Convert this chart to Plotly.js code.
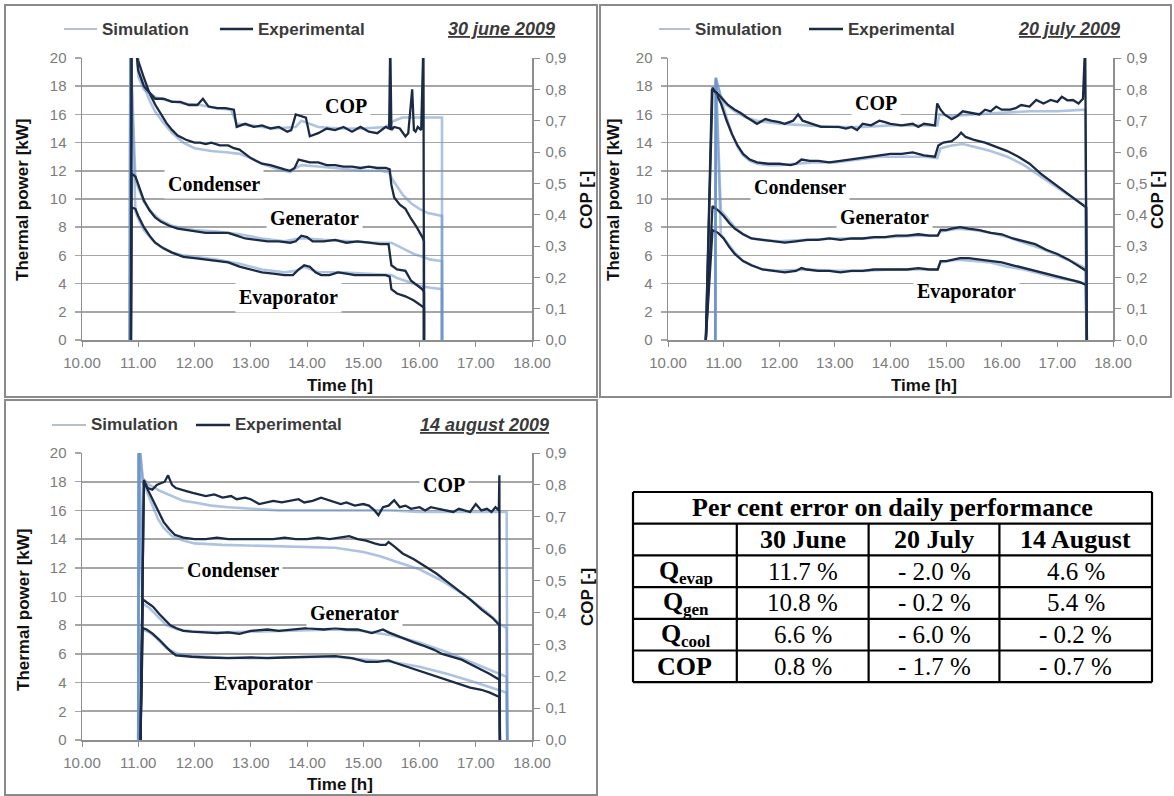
<!DOCTYPE html>
<html><head><meta charset="utf-8">
<script src="https://cdn.plot.ly/plotly-3.0.1.min.js"></script>
<style>html,body{margin:0;padding:0;background:#fff;} #chart{width:1174px;height:796px;}</style>
</head><body><div id="chart"></div>
<script>
// ---------------- data ----------------
const hours = [10, 11, 12, 13, 14, 15, 16, 17, 18];
const hourLabels = ['10.00', '11.00', '12.00', '13.00', '14.00', '15.00', '16.00', '17.00', '18.00'];
const kwTicks = [0, 2, 4, 6, 8, 10, 12, 14, 16, 18, 20];
const copTicks = [0, 0.1, 0.2, 0.3, 0.4, 0.5, 0.6, 0.7, 0.8, 0.9];
const copLabels = ['0,0', '0,1', '0,2', '0,3', '0,4', '0,5', '0,6', '0,7', '0,8', '0,9'];
const legendNames = ['Simulation', 'Experimental'];
const curveNames = ['COP', 'Condenser', 'Generator', 'Evaporator'];
const dayTitles = ['30 june 2009', '20 july 2009', '14 august 2009'];

// ---- 30 June 2009 ----
const junCondExpT = [10.87,10.88,10.97,11.0,11.1,11.2,11.3,11.4,11.5,11.6,11.7,11.85,12.0,12.1,12.2,12.3,12.45,12.6,12.7,12.8,12.9,13.0,13.1,13.2,13.35,13.5,13.6,13.7,13.78,13.85,13.95,14.05,14.2,14.35,14.5,14.65,14.8,14.95,15.1,15.25,15.4,15.47,15.5,15.55,15.65,15.75,15.85,15.95,16.05,16.08,16.08];
const junCondExp  = [0,21,21,19.8,18.6,17.5,16.7,16.0,15.4,14.9,14.5,14.2,14.0,14.0,13.9,14.0,13.8,13.8,13.6,13.5,13.2,12.9,12.7,12.5,12.4,12.2,12.1,12.0,12.2,12.8,12.7,12.6,12.6,12.4,12.4,12.3,12.3,12.2,12.3,12.2,12.2,12.1,11.0,10.1,9.6,9.3,8.6,8.0,7.3,7.0,0];
const junGenExpT = [10.87,10.88,10.95,11.0,11.1,11.2,11.3,11.4,11.55,11.7,11.85,12.0,12.2,12.4,12.6,12.75,12.9,13.1,13.3,13.5,13.7,13.8,13.9,14.0,14.1,14.3,14.5,14.7,14.9,15.1,15.3,15.45,15.5,15.6,15.75,15.85,15.95,16.05,16.08,16.08];
const junGenExp  = [0,11.8,11.6,11.0,9.9,9.2,8.7,8.4,8.1,7.9,7.8,7.7,7.6,7.6,7.6,7.4,7.2,7.1,7.0,7.0,6.9,7.0,7.4,7.3,7.0,7.0,7.1,6.9,7.0,6.9,6.8,6.8,5.3,5.0,4.9,4.2,3.9,3.6,3.4,0];
const junEvapExpT = [10.87,10.88,10.95,11.0,11.1,11.2,11.3,11.45,11.6,11.8,12.0,12.2,12.4,12.6,12.8,13.0,13.2,13.4,13.6,13.75,13.85,13.95,14.05,14.15,14.25,14.4,14.55,14.7,14.85,15.0,15.2,15.4,15.47,15.5,15.6,15.75,15.9,16.0,16.08,16.08];
const junEvapExp  = [0,9.4,9.3,8.8,8.0,7.4,6.9,6.5,6.2,5.9,5.8,5.7,5.6,5.5,5.2,5.0,4.8,4.7,4.6,4.6,5.0,5.3,5.2,4.8,4.6,4.6,4.8,4.7,4.6,4.6,4.6,4.6,4.5,3.6,3.3,3.1,2.8,2.5,2.3,0];
const junCopExpT = [10.87,10.88,10.95,11.0,11.1,11.2,11.3,11.45,11.6,11.75,11.9,12.05,12.15,12.25,12.4,12.55,12.7,12.75,12.9,13.05,13.2,13.35,13.5,13.65,13.72,13.8,13.9,13.98,14.05,14.2,14.35,14.5,14.65,14.8,14.95,15.1,15.25,15.4,15.46,15.48,15.5,15.55,15.65,15.75,15.8,15.87,15.9,15.93,15.97,16.03,16.07,16.08];
const junCopExp  = [0,0.95,0.95,0.86,0.81,0.79,0.77,0.77,0.76,0.76,0.75,0.75,0.77,0.745,0.74,0.74,0.735,0.68,0.69,0.68,0.685,0.675,0.68,0.665,0.67,0.72,0.715,0.71,0.65,0.66,0.675,0.67,0.68,0.665,0.68,0.665,0.66,0.68,0.675,0.95,0.67,0.68,0.675,0.65,0.66,0.8,0.67,0.665,0.68,0.67,0.95,0];
const junCondSimT = [10.85,10.86,10.97,11.0,11.1,11.2,11.3,11.45,11.6,11.8,12.0,12.3,12.6,12.8,13.0,13.2,13.5,13.7,13.8,13.9,14.2,14.5,15.0,15.3,15.45,15.55,15.7,15.85,16.0,16.15,16.4,16.4];
const junCondSim  = [0,21,21,19.2,18.0,17.0,16.2,15.4,14.7,14.0,13.6,13.4,13.3,13.2,12.9,12.5,12.1,11.9,12.2,12.4,12.3,12.2,12.0,12.0,11.9,11.2,10.3,9.7,9.3,9.0,8.8,0];
const junGenSimT = [10.85,10.86,10.95,11.0,11.1,11.25,11.4,11.6,11.8,12.0,12.4,12.8,13.2,13.6,13.85,14.0,14.3,14.8,15.2,15.5,15.6,15.75,15.9,16.05,16.2,16.4,16.4];
const junGenSim  = [0,21,11.4,10.8,9.8,9.0,8.5,8.1,7.9,7.8,7.7,7.5,7.2,7.0,7.2,7.2,7.1,7.0,6.9,6.9,6.7,6.4,6.1,5.9,5.7,5.6,0];
const junEvapSimT = [10.85,10.86,10.95,11.0,11.1,11.25,11.4,11.6,11.8,12.0,12.4,12.8,13.2,13.6,13.8,13.95,14.2,14.6,15.0,15.5,15.6,15.75,15.9,16.05,16.2,16.4,16.4];
const junEvapSim  = [0,21,9.1,8.6,7.8,7.1,6.6,6.2,6.0,5.9,5.7,5.4,5.0,4.8,4.9,5.2,4.8,4.8,4.7,4.6,4.4,4.2,4.0,3.8,3.7,3.6,0];
const junCopSimT = [10.85,10.86,10.97,11.0,11.1,11.3,11.5,11.8,12.1,12.4,12.65,12.75,13.0,13.4,13.8,13.9,14.2,14.6,15.0,15.4,15.55,15.7,16.0,16.4,16.4];
const junCopSim  = [0,0.95,0.95,0.84,0.8,0.775,0.765,0.755,0.75,0.74,0.735,0.69,0.685,0.675,0.68,0.7,0.68,0.675,0.675,0.68,0.7,0.71,0.71,0.71,0];

// ---- 20 July 2009 ----
const julCondExpT = [10.68,10.8,10.85,10.95,11.05,11.15,11.25,11.35,11.47,11.6,11.8,12.0,12.2,12.3,12.4,12.55,12.7,12.9,13.1,13.3,13.5,13.65,13.8,14.0,14.2,14.4,14.6,14.8,14.86,14.95,15.1,15.2,15.27,15.35,15.5,15.7,15.9,16.1,16.3,16.5,16.7,16.9,17.1,17.3,17.45,17.52,17.53];
const julCondExp  = [0,17.9,17.6,16.8,15.6,14.6,13.8,13.2,12.8,12.6,12.5,12.5,12.4,12.5,12.8,12.7,12.7,12.6,12.7,12.8,12.9,13.0,13.1,13.2,13.2,13.3,13.1,13.0,13.8,14.0,14.1,14.4,14.7,14.4,14.2,14.0,13.7,13.4,13.0,12.5,11.8,11.2,10.6,10.0,9.6,9.4,0];
const julGenExpT = [10.68,10.8,10.9,11.0,11.1,11.2,11.35,11.5,11.7,11.9,12.1,12.3,12.5,12.7,12.9,13.1,13.3,13.5,13.7,13.9,14.1,14.3,14.5,14.7,14.85,14.9,15.0,15.1,15.25,15.4,15.6,15.8,16.0,16.2,16.4,16.6,16.8,17.0,17.2,17.4,17.52,17.53];
const julGenExp  = [0,9.5,9.2,8.8,8.3,7.9,7.5,7.2,7.1,7.0,6.9,7.0,7.1,7.1,7.2,7.1,7.2,7.2,7.3,7.3,7.4,7.4,7.5,7.4,7.4,7.8,7.8,7.9,8.0,7.9,7.8,7.6,7.5,7.2,7.0,6.8,6.4,6.1,5.7,5.2,4.9,0];
const julEvapExpT = [10.68,10.8,10.9,11.0,11.1,11.2,11.35,11.5,11.7,11.9,12.1,12.3,12.4,12.5,12.7,12.9,13.1,13.3,13.5,13.7,13.9,14.1,14.3,14.5,14.7,14.85,14.9,15.0,15.1,15.25,15.4,15.6,15.8,16.0,16.2,16.4,16.6,16.8,17.0,17.2,17.4,17.52,17.53];
const julEvapExp  = [0,7.8,7.6,7.2,6.6,6.1,5.6,5.3,5.0,4.9,4.8,4.9,5.1,5.0,4.9,4.9,4.8,4.9,4.9,5.0,5.0,5.0,5.0,5.1,5.0,5.0,5.6,5.6,5.7,5.8,5.8,5.7,5.6,5.5,5.3,5.1,4.9,4.7,4.5,4.3,4.1,3.9,0];
const julCopExpT = [10.68,10.79,10.87,10.95,11.08,11.2,11.3,11.42,11.5,11.6,11.75,11.85,12.0,12.1,12.25,12.34,12.42,12.5,12.65,12.75,12.9,13.07,13.2,13.3,13.4,13.5,13.65,13.8,13.9,14.0,14.2,14.4,14.5,14.6,14.8,14.84,14.9,14.97,15.1,15.2,15.3,15.45,15.6,15.7,15.8,15.9,16.0,16.15,16.25,16.35,16.5,16.62,16.75,16.88,17.0,17.08,17.18,17.28,17.38,17.46,17.5,17.53];
const julCopExp  = [0,0.8,0.79,0.776,0.75,0.735,0.725,0.71,0.7,0.69,0.705,0.7,0.695,0.69,0.7,0.72,0.7,0.695,0.685,0.68,0.68,0.68,0.675,0.68,0.67,0.69,0.685,0.7,0.695,0.69,0.685,0.69,0.68,0.69,0.685,0.755,0.735,0.72,0.705,0.715,0.73,0.725,0.72,0.735,0.73,0.745,0.735,0.735,0.74,0.75,0.745,0.766,0.755,0.766,0.76,0.776,0.765,0.766,0.755,0.77,0.95,0];
const julCondSimT = [10.85,10.86,10.95,11.05,11.15,11.25,11.35,11.47,11.6,11.8,12.0,12.3,12.6,13.0,13.4,13.8,14.2,14.6,14.84,14.9,15.1,15.3,15.5,15.8,16.1,16.4,16.7,17.0,17.3,17.5,17.53];
const julCondSim  = [0,18.6,17.2,15.8,14.6,13.7,13.1,12.7,12.5,12.4,12.4,12.5,12.6,12.6,12.8,13.0,13.0,13.0,12.9,13.6,13.8,13.9,13.7,13.4,13.0,12.4,11.6,10.8,10.0,9.5,0];
const julGenSimT = [10.85,10.86,10.95,11.05,11.2,11.35,11.5,11.7,12.0,12.5,13.0,13.5,14.0,14.5,14.84,14.9,15.2,15.5,15.8,16.1,16.4,16.7,17.0,17.3,17.5,17.53];
const julGenSim  = [0,18.6,9.2,8.7,8.0,7.5,7.2,7.1,7.0,7.1,7.2,7.2,7.3,7.4,7.4,7.7,7.9,7.8,7.6,7.3,6.9,6.5,6.0,5.5,5.1,0];
const julEvapSimT = [10.85,10.86,10.95,11.05,11.2,11.35,11.5,11.7,12.0,12.5,13.0,13.5,14.0,14.5,14.84,14.9,15.2,15.5,15.8,16.1,16.4,16.7,17.0,17.3,17.5,17.53];
const julEvapSim  = [0,18.6,7.5,7.0,6.2,5.6,5.3,5.0,4.9,5.0,4.9,4.9,5.0,5.0,5.0,5.5,5.7,5.6,5.5,5.2,5.0,4.7,4.4,4.2,4.0,0];
const julCopSimT = [10.85,10.86,10.95,11.05,11.2,11.4,11.6,12.0,12.5,13.0,13.5,14.0,14.5,14.84,14.88,15.1,15.5,16.0,16.5,17.0,17.5,17.53];
const julCopSim  = [0,0.83,0.78,0.75,0.73,0.71,0.7,0.69,0.685,0.68,0.68,0.685,0.685,0.685,0.72,0.715,0.72,0.725,0.73,0.73,0.735,0];

// ---- 14 August 2009 ----
const augCondExpT = [11.04,11.1,11.15,11.25,11.35,11.45,11.55,11.65,11.8,12.0,12.2,12.4,12.6,12.8,13.0,13.2,13.4,13.6,13.8,14.0,14.2,14.4,14.6,14.75,14.9,15.05,15.2,15.3,15.4,15.45,15.55,15.7,15.9,16.1,16.3,16.5,16.7,16.9,17.1,17.3,17.42,17.43];
const augCondExp  = [0,18.0,17.6,16.8,15.9,15.2,14.7,14.3,14.1,14.0,14.0,14.1,14.0,14.0,14.0,14.0,14.0,14.1,14.0,14.0,14.1,14.0,14.1,14.2,14.0,13.9,13.7,13.6,13.6,13.8,13.5,13.0,12.6,12.1,11.6,11.0,10.4,9.8,9.1,8.5,8.0,0];
const augGenExpT = [11.04,11.08,11.15,11.26,11.37,11.47,11.57,11.67,11.8,11.95,12.2,12.4,12.6,12.8,13.0,13.3,13.5,13.7,14.0,14.3,14.5,14.7,14.9,15.15,15.3,15.35,15.45,15.7,15.9,16.05,16.25,16.4,16.6,16.75,16.9,17.1,17.25,17.42,17.43];
const augGenExp  = [0,9.8,9.6,9.3,8.8,8.4,8.0,7.8,7.6,7.55,7.5,7.45,7.5,7.4,7.6,7.7,7.6,7.7,7.8,7.7,7.8,7.7,7.7,7.45,7.6,7.7,7.5,7.1,6.8,6.6,6.3,6.0,5.8,5.6,5.3,4.9,4.6,4.2,0];
const augEvapExpT = [11.04,11.08,11.15,11.26,11.37,11.47,11.57,11.67,11.8,11.95,12.2,12.6,13.0,13.3,13.6,14.0,14.3,14.5,14.8,15.05,15.25,15.45,15.55,15.7,15.9,16.05,16.25,16.4,16.6,16.75,16.9,17.1,17.25,17.42,17.43];
const augEvapExp  = [0,7.8,7.7,7.4,7.0,6.6,6.2,5.9,5.85,5.8,5.75,5.7,5.75,5.7,5.75,5.8,5.8,5.85,5.7,5.45,5.45,5.55,5.4,5.2,4.95,4.75,4.5,4.3,4.05,3.8,3.65,3.5,3.3,3.0,0];
const augCopExpT = [11.04,11.1,11.14,11.17,11.25,11.33,11.4,11.47,11.53,11.6,11.67,11.75,11.87,11.97,12.07,12.2,12.35,12.5,12.65,12.75,12.9,13.0,13.15,13.3,13.4,13.55,13.7,13.85,13.95,14.1,14.25,14.4,14.5,14.6,14.7,14.85,15.0,15.1,15.2,15.27,15.35,15.45,15.55,15.65,15.75,15.85,16.0,16.1,16.2,16.35,16.45,16.6,16.7,16.8,16.9,17.0,17.1,17.2,17.28,17.35,17.41,17.42,17.43];
const augCopExp  = [0,0.815,0.8,0.79,0.785,0.8,0.805,0.81,0.83,0.8,0.79,0.785,0.78,0.775,0.77,0.765,0.77,0.76,0.765,0.755,0.76,0.755,0.74,0.745,0.75,0.745,0.75,0.755,0.745,0.75,0.76,0.752,0.745,0.74,0.745,0.735,0.74,0.735,0.72,0.705,0.73,0.735,0.752,0.73,0.735,0.725,0.73,0.72,0.73,0.725,0.72,0.715,0.725,0.72,0.715,0.74,0.72,0.725,0.715,0.73,0.72,0.83,0];
const augCondSimT = [11.0,11.01,11.08,11.15,11.25,11.35,11.45,11.6,11.8,12.0,12.5,13.0,13.5,14.0,14.5,15.0,15.3,15.6,16.0,16.4,16.8,17.2,17.42,17.55,17.56];
const augCondSim  = [0,21,18.0,17.3,16.3,15.4,14.8,14.2,13.9,13.7,13.6,13.55,13.5,13.5,13.4,13.1,12.8,12.4,11.9,11.1,10.1,8.9,8.1,7.8,0];
const augGenSimT = [11.0,11.01,11.08,11.2,11.35,11.5,11.7,12.0,12.5,13.0,13.5,14.0,14.5,15.0,15.5,16.0,16.5,17.0,17.42,17.55,17.56];
const augGenSim  = [0,21,9.5,9.2,8.6,8.0,7.7,7.55,7.5,7.55,7.6,7.7,7.7,7.6,7.3,6.8,6.1,5.3,4.6,4.4,0];
const augEvapSimT = [11.0,11.01,11.08,11.2,11.35,11.5,11.7,12.0,12.5,13.0,13.5,14.0,14.5,15.0,15.5,16.0,16.5,17.0,17.42,17.55,17.56];
const augEvapSim  = [0,21,7.7,7.5,7.0,6.4,6.0,5.85,5.75,5.7,5.75,5.8,5.8,5.6,5.45,5.1,4.6,4.0,3.5,3.3,0];
const augCopSimT = [11.0,11.01,11.08,11.2,11.4,11.6,11.8,12.0,12.3,12.6,13.0,13.5,14.0,14.5,15.0,15.5,16.0,16.5,17.0,17.55,17.56];
const augCopSim  = [0,0.95,0.82,0.8,0.78,0.765,0.75,0.745,0.735,0.73,0.725,0.72,0.72,0.72,0.72,0.72,0.715,0.715,0.715,0.715,0];

// ---- table ----
const tableTitle = 'Per cent error on daily performance';
const tableDays = ['30 June', '20 July', '14 August'];
const tableRowMain = ['Q', 'Q', 'Q', 'COP'];
const tableRowSub = ['evap', 'gen', 'cool', ''];
const errQevap = [11.7, -2.0, 4.6];
const errQgen  = [10.8, -0.2, 5.4];
const errQcool = [6.6, -6.0, -0.2];
const errCop   = [0.8, -1.7, -0.7];

// ---------------- layout helpers ----------------
const W = 1174, H = 796;
const px = x => x / W;
const py = y => 1 - y / H;

const SANS = 'Liberation Sans, Arial, sans-serif';
const SERIF = 'Liberation Serif, Times New Roman, serif';
const EXP_COLOR = '#1b2a45';
const SIM_COLOR = 'rgba(105,145,200,0.55)';
const AX_COLOR = '#8f8f8f';
const GRID_COLOR = '#a6a6a6';
const TICK_FONT = {family: SANS, size: 15, color: '#7c7c7c'};
const TITLE_FONT = {family: SANS, size: 17, color: '#111', weight: 'bold'};
const LABEL_FONT = {family: SERIF, size: 20, color: '#000', weight: 'bold'};
const LEG_FONT = {family: SANS, size: 17, color: '#3a3a3a', weight: 'bold'};
const DATE_FONT = {family: SANS, size: 18, color: '#3a3a3a', weight: 'bold', style: 'italic', lineposition: 'under'};

const panels = [
  {box: [5, 5, 597, 397], plot: [82, 58, 532, 340], xk: 'x', yk: 'y', y2k: 'y2',
   leg: {simLine: [64, 97], simText: 100, expLine: [220, 253], expText: 256, y: 29, dateRight: 557},
   titles: {left: [23, 200], right: [587, 200], bottom: [340, 385]},
   labels: [[346, 106], [214, 184], [314, 218], [288, 297]],
   sim: [[junCondSimT, junCondSim], [junGenSimT, junGenSim], [junEvapSimT, junEvapSim], [junCopSimT, junCopSim]],
   exp: [[junCondExpT, junCondExp], [junGenExpT, junGenExp], [junEvapExpT, junEvapExp], [junCopExpT, junCopExp]]},
  {box: [600, 5, 1171, 397], plot: [668, 58, 1113, 340], xk: 'x2', yk: 'y3', y2k: 'y4',
   leg: {simLine: [659, 690], simText: 693, expLine: [809, 843], expText: 846, y: 29, dateRight: 1122},
   titles: {left: [614, 200], right: [1158, 200], bottom: [924, 385]},
   labels: [[876, 103], [800, 187], [884, 217], [966, 292]],
   sim: [[julCondSimT, julCondSim], [julGenSimT, julGenSim], [julEvapSimT, julEvapSim], [julCopSimT, julCopSim]],
   exp: [[julCondExpT, julCondExp], [julGenExpT, julGenExp], [julEvapExpT, julEvapExp], [julCopExpT, julCopExp]]},
  {box: [5, 400, 597, 795], plot: [82, 453, 532, 740], xk: 'x3', yk: 'y5', y2k: 'y6',
   leg: {simLine: [52, 86], simText: 89, expLine: [196, 230], expText: 233, y: 425, dateRight: 551},
   titles: {left: [23, 610], right: [587, 597], bottom: [340, 784]},
   labels: [[444, 485], [233, 570], [354, 613], [263, 683]],
   sim: [[augCondSimT, augCondSim], [augGenSimT, augGenSim], [augEvapSimT, augEvapSim], [augCopSimT, augCopSim]],
   exp: [[augCondExpT, augCondExp], [augGenExpT, augGenExp], [augEvapExpT, augEvapExp], [augCopExpT, augCopExp]]}
];

const traces = [];
const layout = {
  width: W, height: H, margin: {l: 0, r: 0, t: 0, b: 0},
  paper_bgcolor: '#fff', plot_bgcolor: 'rgba(0,0,0,0)', showlegend: false,
  annotations: [], shapes: []
};
const axName = k => k === 'x' ? 'xaxis' : k === 'y' ? 'yaxis' : (k[0] + 'axis' + k.slice(1));
const note = (x, y, text, font, extra) => layout.annotations.push(Object.assign({
  xref: 'paper', yref: 'paper', x: px(x), y: py(y), text: text, showarrow: false, font: font,
  xanchor: 'center', yanchor: 'middle'}, extra || {}));

panels.forEach((p, i) => {
  const [x0, y0, x1, y1] = p.plot;
  layout[axName(p.xk)] = {
    domain: [px(x0), px(x1)], anchor: p.yk, range: [10, 18],
    tickmode: 'array', tickvals: hours, ticktext: hourLabels,
    showgrid: false, zeroline: false, showline: true, linecolor: AX_COLOR, linewidth: 1.5,
    ticks: 'outside', ticklen: 5, tickcolor: AX_COLOR, tickfont: TICK_FONT, ticklabelstandoff: 3, fixedrange: true
  };
  layout[axName(p.yk)] = {
    domain: [py(y1), py(y0)], anchor: p.xk, range: [0, 20],
    tickmode: 'array', tickvals: kwTicks,
    showgrid: true, gridcolor: GRID_COLOR, gridwidth: 1.6, zeroline: false,
    showline: true, linecolor: AX_COLOR, linewidth: 1.5,
    ticks: 'outside', ticklen: 6, tickcolor: GRID_COLOR, tickwidth: 1.5, tickfont: TICK_FONT, ticklabelstandoff: 5, fixedrange: true
  };
  layout[axName(p.y2k)] = {
    overlaying: p.yk, anchor: p.xk, side: 'right', range: [0, 0.9],
    tickmode: 'array', tickvals: copTicks, ticktext: copLabels,
    showgrid: false, zeroline: false, showline: true, linecolor: AX_COLOR, linewidth: 1.5,
    ticks: 'outside', ticklen: 6, tickcolor: AX_COLOR, tickfont: TICK_FONT, ticklabelstandoff: 3, fixedrange: true
  };

  // simulation lines first, experimental on top
  p.sim.forEach((s, j) => traces.push({
    type: 'scatter', mode: 'lines', x: s[0], y: s[1], xaxis: p.xk, yaxis: j === 3 ? p.y2k : p.yk,
    name: legendNames[0], line: {color: SIM_COLOR, width: 2.6}, hoverinfo: 'skip'
  }));
  p.exp.forEach((s, j) => traces.push({
    type: 'scatter', mode: 'lines', x: s[0], y: s[1], xaxis: p.xk, yaxis: j === 3 ? p.y2k : p.yk,
    name: legendNames[1], line: {color: EXP_COLOR, width: 2.3}, hoverinfo: 'skip'
  }));

  // panel frame
  layout.shapes.push({type: 'rect', xref: 'paper', yref: 'paper', x0: px(p.box[0]), x1: px(p.box[2]),
    y0: py(p.box[3]), y1: py(p.box[1]), line: {color: '#8a8a8a', width: 2}, fillcolor: 'rgba(0,0,0,0)', layer: 'below'});

  // legend (drawn per panel, as in the original figure)
  const L = p.leg;
  layout.shapes.push({type: 'line', xref: 'paper', yref: 'paper', x0: px(L.simLine[0]), x1: px(L.simLine[1]),
    y0: py(L.y), y1: py(L.y), line: {color: '#b4c0cc', width: 2}});
  layout.shapes.push({type: 'line', xref: 'paper', yref: 'paper', x0: px(L.expLine[0]), x1: px(L.expLine[1]),
    y0: py(L.y), y1: py(L.y), line: {color: EXP_COLOR, width: 2.5}});
  note(L.simText, L.y, legendNames[0], LEG_FONT, {xanchor: 'left'});
  note(L.expText, L.y, legendNames[1], LEG_FONT, {xanchor: 'left'});
  note(L.dateRight, L.y, dayTitles[i], DATE_FONT, {xanchor: 'right'});

  // axis titles
  const T = p.titles;
  note(T.left[0], T.left[1], 'Thermal power [kW]', TITLE_FONT, {textangle: -90});
  note(T.right[0], T.right[1], 'COP [-]', TITLE_FONT, {textangle: -90});
  note(T.bottom[0], T.bottom[1], 'Time [h]', TITLE_FONT);

  // curve labels on white boxes
  p.labels.forEach((pos, j) => note(pos[0], pos[1], curveNames[j], LABEL_FONT, {bgcolor: '#fff', borderpad: 3}));
});

// ---------------- table ----------------
const TBL = {left: 633, right: 1152, top: 492, rowH: 31.7, colFr: [0, 0.2, 0.454, 0.706, 1]};
const colX = TBL.colFr.map(f => TBL.left + f * (TBL.right - TBL.left));
const nRows = 2 + tableRowMain.length;
const rowY = Array.from({length: nRows + 1}, (_, k) => TBL.top + k * TBL.rowH);
const tLine = {color: '#000', width: 2.2};
const fmtErr = v => (v < 0 ? '- ' + Math.abs(v).toFixed(1) : v.toFixed(1)) + ' %';
const TBL_BOLD = {family: SERIF, size: 26, color: '#000', weight: 'bold'};
const TBL_REG = {family: SERIF, size: 25, color: '#000'};
const TBL_SUB = {family: SERIF, size: 17, color: '#000', weight: 'bold'};

rowY.forEach(y => layout.shapes.push({type: 'line', xref: 'paper', yref: 'paper', x0: px(colX[0]), x1: px(colX[4]), y0: py(y), y1: py(y), line: tLine}));
[colX[0], colX[4]].forEach(x => layout.shapes.push({type: 'line', xref: 'paper', yref: 'paper', x0: px(x), x1: px(x), y0: py(rowY[0]), y1: py(rowY[nRows]), line: tLine}));
colX.slice(1, 4).forEach(x => layout.shapes.push({type: 'line', xref: 'paper', yref: 'paper', x0: px(x), x1: px(x), y0: py(rowY[1]), y1: py(rowY[nRows]), line: tLine}));

note((colX[0] + colX[4]) / 2, (rowY[0] + rowY[1]) / 2, tableTitle, TBL_BOLD);
tableDays.forEach((d, k) => note((colX[k + 1] + colX[k + 2]) / 2, (rowY[1] + rowY[2]) / 2, d, TBL_BOLD));

const ctx = document.createElement('canvas').getContext('2d');
const measure = (s, f) => { ctx.font = (f.weight || 'normal') + ' ' + f.size + 'px "Liberation Serif"'; return ctx.measureText(s).width; };
const errRows = [errQevap, errQgen, errQcool, errCop];
tableRowMain.forEach((main, r) => {
  const cy = (rowY[r + 2] + rowY[r + 3]) / 2;
  const cx = (colX[0] + colX[1]) / 2;
  const sub = tableRowSub[r];
  if (sub) {
    const wm = measure(main, TBL_BOLD), ws = measure(sub, TBL_SUB);
    const xl = cx - (wm + ws) / 2;
    note(xl, cy - 1, main, TBL_BOLD, {xanchor: 'left', borderpad: 0});
    note(xl + wm, cy + 7, sub, TBL_SUB, {xanchor: 'left', borderpad: 0});
  } else {
    note(cx, cy, main, TBL_BOLD);
  }
  errRows[r].forEach((v, k) => note((colX[k + 1] + colX[k + 2]) / 2, cy, fmtErr(v), TBL_REG));
});

Plotly.newPlot('chart', traces, layout, {staticPlot: true, displayModeBar: false});
</script></body></html>
